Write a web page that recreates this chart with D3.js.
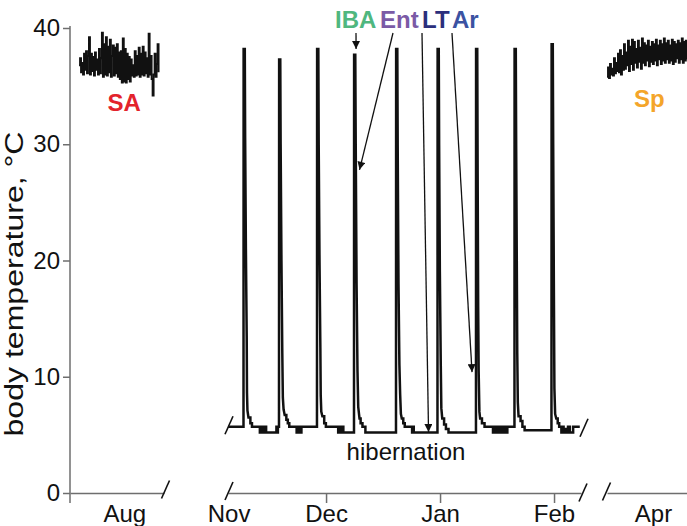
<!DOCTYPE html>
<html>
<head>
<meta charset="utf-8">
<script src="https://cdn.jsdelivr.net/npm/d3@7"></script>
<style>
	body { margin: 0; background: #fff; }
	svg { display: block; font-family: 'Liberation Sans', Arial, Helvetica, sans-serif; }
	.axis path, .axis line { stroke: #6e6e6e; stroke-width: 1.5; }
	.axis text { font-size: 24px; fill: #111; font-family: 'Liberation Sans', Arial, sans-serif; }
</style>
</head>
<body>
<script>
// summer active, one reading every 6.6 h from 7 Aug
const summerStart = new Date(2010, 7, 7, 12)
const summerStep = 6.6
const summerTemps = [
	36.8, 37.4, 36.2, 37.0, 36.0, 37.8, 36.4, 38.0, 36.1, 37.6,
	39.2, 36.0, 37.8, 36.3, 37.5, 35.9, 37.9, 36.4, 37.3, 36.0,
	38.2, 36.1, 37.4, 39.6, 35.8, 38.6, 36.0, 39.2, 35.9, 38.4,
	36.2, 39.0, 35.8, 37.6, 38.5, 35.9, 38.3, 36.1, 38.6, 35.8,
	37.9, 35.6, 38.0, 35.3, 39.1, 35.4, 38.2, 35.3, 37.8, 35.6,
	37.5, 35.4, 37.3, 35.9, 36.8, 35.8, 38.0, 35.9, 37.6, 36.0,
	38.3, 35.8, 37.8, 36.0, 38.4, 35.9, 37.9, 36.1, 37.4, 35.8,
	39.5, 36.0, 37.6, 35.6, 34.2, 36.0, 37.8, 35.8, 36.9, 38.6,
	36.2
]

// spring, one reading every 6.5 h from 3 Apr
const springStart = new Date(2011, 3, 3)
const springStep = 6.5
const springTemps = [
	35.8, 36.6, 35.7, 36.9, 36.0, 36.5, 35.9, 37.4, 36.1, 37.0,
	36.3, 37.8, 36.2, 38.1, 36.0, 37.6, 36.4, 38.6, 36.5, 37.9,
	36.8, 38.9, 36.3, 38.4, 36.9, 39.0, 36.4, 38.8, 37.0, 38.2,
	36.6, 38.9, 37.1, 38.3, 36.5, 39.1, 37.0, 38.7, 36.8, 38.5,
	37.2, 38.9, 36.7, 38.4, 37.1, 38.8, 36.9, 38.6, 37.2, 39.0,
	36.8, 38.5, 37.3, 38.9, 36.9, 38.6, 37.2, 39.1, 37.0, 38.7,
	37.3, 38.9, 37.0, 38.5, 37.2, 39.0, 36.9, 38.8, 37.1, 38.6,
	37.4, 38.9, 37.0, 38.7, 37.3, 39.1, 37.0, 38.8, 37.2, 38.9,
	37.3
]

// hibernation season: [days after 1 Nov, °C]
const hibernationStart = new Date(2010, 10, 1)
const hibernation = [
	[3.35, 5.7], [7.55, 5.7],
	[7.58, 38.2], [7.9, 38.2], [8.0, 30.5], [8.2, 21], [8.42, 13.5], [8.5, 8.6], [8.62, 7.1], [8.9, 6.5],
	[9.42, 6.5], [9.42, 6.0], [9.85, 6.0], [9.85, 5.7], [12.0, 5.7],
	[12.0, 5.2], [12.15, 5.2], [12.15, 5.7], [12.35, 5.7], [12.35, 5.2], [12.55, 5.2], [12.55, 5.7],
	[12.75, 5.7], [12.75, 5.2], [13.0, 5.2], [13.0, 5.7], [13.25, 5.7], [13.25, 5.2], [13.5, 5.2],
	[13.5, 5.7], [13.7, 5.7], [13.7, 5.2], [16.5, 5.2], [16.5, 5.7], [16.7, 5.7], [16.7, 5.2],
	[16.9, 5.2], [16.9, 5.7], [17.2, 5.7],
	[17.24, 37.3], [17.55, 37.3], [17.65, 30], [17.87, 20], [18.1, 12], [18.25, 8.2], [18.45, 7.2], [18.75, 6.7],
	[19.2, 6.7], [19.2, 6.3], [19.6, 6.3], [19.6, 6.0], [20.0, 6.0], [20.0, 5.7], [22.0, 5.7],
	[22.0, 5.2], [22.2, 5.2], [22.2, 5.7], [22.45, 5.7], [22.45, 5.2], [22.7, 5.2], [22.7, 5.7],
	[22.95, 5.7], [22.95, 5.2], [23.3, 5.2], [23.3, 5.7], [27.53, 5.7],
	[27.57, 38.2], [27.9, 38.2], [28.0, 30], [28.22, 20], [28.45, 12.5], [28.55, 8.4], [28.7, 7.0], [29.0, 6.6],
	[29.5, 6.6], [29.5, 6.0], [29.95, 6.0], [29.95, 5.7], [33.3, 5.7],
	[33.3, 5.2], [33.5, 5.2], [33.5, 5.7], [33.75, 5.7], [33.75, 5.2], [34.0, 5.2], [34.0, 5.7],
	[34.25, 5.7], [34.25, 5.2], [34.5, 5.2], [34.5, 5.7], [34.7, 5.7], [34.7, 5.2], [37.6, 5.2],
	[37.63, 37.7], [37.95, 37.7], [38.07, 30], [38.3, 18], [38.55, 10.5], [38.75, 7.4], [39.1, 6.4],
	[39.4, 6.4], [39.4, 6.0], [39.9, 6.0], [39.9, 5.7], [40.7, 5.7], [40.7, 5.2], [49.02, 5.2],
	[49.06, 38.2], [49.38, 38.2], [49.48, 30], [49.7, 18], [49.95, 11], [50.15, 8.5], [50.35, 6.8], [50.6, 6.4],
	[51.0, 6.4], [51.0, 6.0], [51.4, 6.0], [51.4, 5.7], [53.4, 5.7],
	[53.4, 5.2], [53.6, 5.2], [53.6, 5.7], [53.85, 5.7], [53.85, 5.2], [60.3, 5.2],
	[60.34, 38.2], [60.65, 38.2], [60.75, 30], [60.95, 19], [61.2, 11], [61.35, 7.3], [61.6, 6.4],
	[62.1, 6.4], [62.1, 5.9], [62.6, 5.9], [62.6, 5.5], [63.3, 5.5], [63.3, 5.2], [70.77, 5.2],
	[70.8, 38.2], [71.12, 38.2], [71.22, 28], [71.37, 16], [71.5, 10.5], [71.7, 7.0], [71.9, 6.4],
	[72.4, 6.4], [72.4, 6.0], [73.1, 6.0], [73.1, 5.7], [75.4, 5.7],
	[75.4, 5.2], [75.6, 5.2], [75.6, 5.7], [75.9, 5.7], [75.9, 5.2], [76.2, 5.2], [76.2, 5.7],
	[76.5, 5.7], [76.5, 5.2], [76.9, 5.2], [76.9, 5.7], [77.3, 5.7], [77.3, 5.2], [77.6, 5.2],
	[77.6, 5.7], [78.0, 5.7], [78.0, 5.2], [78.4, 5.2], [78.4, 5.7], [78.9, 5.7], [78.9, 5.2],
	[79.3, 5.2], [79.3, 5.7], [81.24, 5.7],
	[81.27, 38.2], [81.6, 38.2], [81.7, 30], [81.87, 20], [82.0, 12], [82.15, 7.8], [82.35, 6.6],
	[82.9, 6.6], [82.9, 6.2], [83.4, 6.2], [83.4, 5.7], [84.0, 5.7], [84.0, 5.4], [91.3, 5.4],
	[91.34, 38.6], [91.66, 38.6], [91.77, 30], [91.95, 18], [92.1, 9], [92.3, 6.8], [92.6, 6.4],
	[93.0, 6.4], [93.0, 6.0], [93.4, 6.0], [93.4, 5.7], [94.0, 5.7],
	[94.0, 5.2], [94.3, 5.2], [94.3, 5.7], [94.6, 5.7], [94.6, 5.2], [95.0, 5.2], [95.0, 5.5],
	[95.4, 5.5], [95.4, 5.2], [95.8, 5.2], [95.8, 5.7], [96.3, 5.7], [96.3, 5.2], [97.2, 5.2],
	[97.2, 5.7], [99.0, 5.7]
]

const yTicks = [0, 10, 20, 30, 40]
const augLabels = [new Date(2010, 7, 20)]
const winterLabels = [new Date(2010, 10, 4, 12), new Date(2010, 11, 1), new Date(2011, 0, 1), new Date(2011, 1, 1)]
const springLabels = [new Date(2011, 3, 15, 12)]

// arrow targets: [days after 1 Nov, °C]
const stageNames = ['IBA', 'Ent', 'LT', 'Ar']
const stageColors = ['#4fb77f', '#7b5aa6', '#2b2f7c', '#3b52a2']
const stageTargets = [[38.16, 38.2], [39.1, 27.8], [57.87, 5.25], [69.7, 10.4]]

const width = 687
const height = 526

const y = d3.scaleLinear()
	.domain([0, 40])
	.range([493, 28])

const xAug = d3.scaleTime()
	.domain([new Date(2010, 7, 5), new Date(2010, 7, 31)])
	.range([70, 164])

const xWinter = d3.scaleTime()
	.domain([new Date(2010, 10, 4, 8), new Date(2011, 1, 8, 8)])
	.range([228, 581])

const xSpring = d3.scaleTime()
	.domain([new Date(2011, 3, 3), new Date(2011, 3, 25)])
	.range([607, 688])

const svg = d3.select('body').append('svg')
	.attr('width', width)
	.attr('height', height)

svg.append('defs').append('marker')
		.attr('id', 'head')
		.attr('viewBox', '0 0 10 10')
		.attr('refX', 10)
		.attr('refY', 5)
		.attr('markerUnits', 'userSpaceOnUse')
		.attr('markerWidth', 11)
		.attr('markerHeight', 8)
		.attr('orient', 'auto')
	.append('path')
		.attr('d', 'M0,0L10,5L0,10Z')
		.attr('fill', '#111')

// y axis
const yAxis = svg.append('g')
	.attr('class', 'axis')
	.attr('transform', 'translate(70,0)')
	.call(d3.axisLeft(y).tickValues(yTicks).tickSize(7).tickPadding(3))
yAxis.select('.domain').attr('d', `M0,${y(40) - 2}V${y(0) + 10}`)

svg.append('text')
	.attr('transform', `translate(22.5,284) rotate(-90)`)
	.attr('text-anchor', 'middle')
	.attr('font-size', 25)
	.attr('textLength', 305)
	.attr('lengthAdjust', 'spacingAndGlyphs')
	.attr('fill', '#111')
	.text('body temperature, °C')

// broken x axis, one piece per season
const fmt = d3.timeFormat('%b')
const pieces = [[xAug, augLabels], [xWinter, winterLabels], [xSpring, springLabels]]
pieces.forEach(([scale, labels]) => {
	const g = svg.append('g')
		.attr('class', 'axis')
		.attr('transform', `translate(0,${y(0)})`)
		.call(d3.axisBottom(scale).tickValues(labels).tickFormat(fmt).tickSize(10).tickSizeOuter(0).tickPadding(2))
	g.selectAll('.tick line').filter(d => d.getDate() !== 1).remove()
})

const slash = (x, yc) => svg.append('line')
	.attr('x1', x - 4).attr('y1', yc + 9)
	.attr('x2', x + 4).attr('y2', yc - 9)
	.attr('stroke', '#111')
	.attr('stroke-width', 1.6)

slash(xAug.range()[1] + 1.5, y(0) - 3.5)
slash(xWinter.range()[0] + 1, y(0) - 2)
slash(xWinter.range()[1] + 2, y(0) - 0.5)
slash(xSpring.range()[0] - 0.5, y(0) - 1.5)
slash(xWinter.range()[0] + 1, y(5.7) - 1.5)
slash(xWinter.range()[1] + 3, y(5.7) + 1)

// traces
const hourMs = 3600 * 1000
const series = (start, step, temps) => temps.map((t, i) => ({ date: new Date(+start + i * step * hourMs), temp: t }))

const traceLine = scale => d3.line()
	.x(d => scale(d.date))
	.y(d => y(d.temp))

svg.append('path')
	.datum(series(summerStart, summerStep, summerTemps))
	.attr('fill', 'none')
	.attr('stroke', '#111')
	.attr('stroke-width', 1.9)
	.attr('d', traceLine(xAug).curve(d3.curveStepAfter))

svg.append('path')
	.datum(series(springStart, springStep, springTemps))
	.attr('fill', 'none')
	.attr('stroke', '#111')
	.attr('stroke-width', 1.9)
	.attr('d', traceLine(xSpring).curve(d3.curveStepAfter))

const dayDate = d => new Date(+hibernationStart + d * 24 * hourMs)

svg.append('path')
	.datum(hibernation.map(([d, t]) => ({ date: dayDate(d), temp: t })))
	.attr('fill', 'none')
	.attr('stroke', '#111')
	.attr('stroke-width', 2.5)
	.attr('stroke-linejoin', 'miter')
	.attr('d', traceLine(xWinter))

// season labels
svg.append('text')
	.attr('x', xAug(new Date(2010, 7, 20)))
	.attr('y', 111)
	.attr('text-anchor', 'middle')
	.attr('font-size', 24)
	.attr('font-weight', 'bold')
	.attr('fill', '#e3232c')
	.text('SA')

svg.append('text')
	.attr('x', xSpring(new Date(2011, 3, 14, 12)))
	.attr('y', 107)
	.attr('text-anchor', 'middle')
	.attr('font-size', 24)
	.attr('font-weight', 'bold')
	.attr('fill', '#f4a52a')
	.text('Sp')

svg.append('text')
	.attr('x', d3.mean(xWinter.range()) + 1.5)
	.attr('y', 460)
	.attr('text-anchor', 'middle')
	.attr('font-size', 24)
	.attr('fill', '#111')
	.text('hibernation')

// stage labels with arrows
const labelX = [335, 380, 422, 452]
const arrowX = [356, 393, 422, 452]
stageNames.forEach((name, i) => {
	svg.append('text')
		.attr('x', labelX[i])
		.attr('y', 28)
		.attr('font-size', 24)
		.attr('font-weight', 'bold')
		.attr('fill', stageColors[i])
		.text(name)
	const [d, t] = stageTargets[i]
	svg.append('line')
		.attr('x1', arrowX[i])
		.attr('y1', 33)
		.attr('x2', xWinter(dayDate(d)))
		.attr('y2', y(t))
		.attr('stroke', '#111')
		.attr('stroke-width', 1.3)
		.attr('marker-end', 'url(#head)')
})
</script>
</body>
</html>
